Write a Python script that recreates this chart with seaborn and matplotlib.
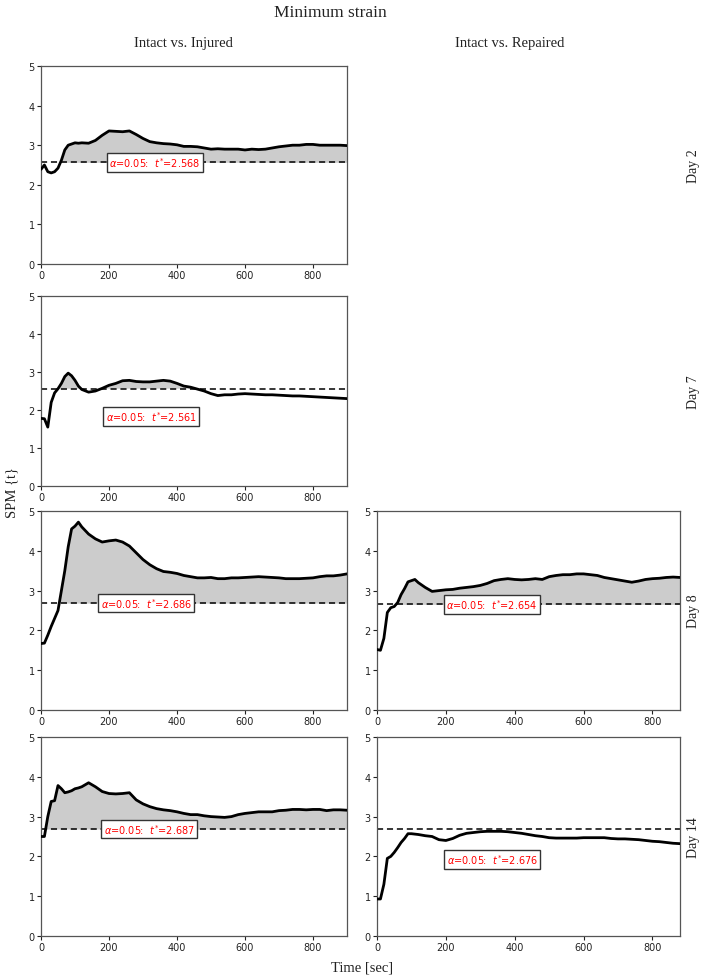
import numpy as np
import matplotlib.pyplot as plt
import seaborn as sns

# sample times [sec]
time_sec = [0, 10, 20, 30, 40, 50, 60, 70, 80, 90, 100, 110, 120,
            140, 160, 180, 200, 220, 240, 260, 280, 300, 320, 340, 360,
            380, 400, 420, 440, 460, 480, 500, 520, 540, 560, 580, 600,
            620, 640, 660, 680, 700, 720, 740, 760, 780, 800, 820, 840,
            860, 880, 900]

# SPM{t} curves, Intact vs. Injured
injured_day2 = [2.39, 2.50, 2.33, 2.30, 2.33, 2.42, 2.62, 2.88, 3.00, 3.03, 3.06, 3.05, 3.06,
                3.05, 3.12, 3.25, 3.36, 3.35, 3.34, 3.36, 3.27, 3.17, 3.09, 3.06, 3.04,
                3.03, 3.01, 2.97, 2.97, 2.96, 2.93, 2.90, 2.91, 2.90, 2.90, 2.90, 2.88,
                2.90, 2.89, 2.90, 2.93, 2.96, 2.98, 3.00, 3.00, 3.02, 3.02, 3.00, 3.00,
                3.00, 3.00, 2.99]
injured_day7 = [1.78, 1.77, 1.55, 2.20, 2.45, 2.56, 2.70, 2.88, 2.97, 2.90, 2.78, 2.63, 2.54,
                2.47, 2.50, 2.57, 2.65, 2.70, 2.77, 2.78, 2.75, 2.74, 2.74, 2.76, 2.78,
                2.76, 2.70, 2.63, 2.60, 2.55, 2.50, 2.43, 2.38, 2.40, 2.40, 2.42, 2.43,
                2.42, 2.41, 2.40, 2.40, 2.39, 2.38, 2.37, 2.37, 2.36, 2.35, 2.34, 2.33,
                2.32, 2.31, 2.30]
injured_day8 = [1.67, 1.68, 1.88, 2.10, 2.30, 2.50, 3.00, 3.50, 4.10, 4.55, 4.62, 4.72, 4.60,
                4.42, 4.30, 4.22, 4.25, 4.27, 4.22, 4.12, 3.95, 3.78, 3.65, 3.55, 3.48,
                3.46, 3.43, 3.38, 3.35, 3.32, 3.32, 3.33, 3.30, 3.30, 3.32, 3.32, 3.33,
                3.34, 3.35, 3.34, 3.33, 3.32, 3.30, 3.30, 3.30, 3.31, 3.32, 3.35, 3.37,
                3.37, 3.39, 3.42]
injured_day14 = [2.50, 2.50, 3.00, 3.38, 3.40, 3.78, 3.70, 3.60, 3.62, 3.65, 3.70, 3.72, 3.75,
                 3.85, 3.75, 3.63, 3.58, 3.57, 3.58, 3.60, 3.42, 3.32, 3.25, 3.20, 3.17,
                 3.15, 3.12, 3.08, 3.05, 3.05, 3.02, 3.00, 2.99, 2.98, 3.00, 3.05, 3.08,
                 3.10, 3.12, 3.12, 3.12, 3.15, 3.16, 3.18, 3.18, 3.17, 3.18, 3.18, 3.15,
                 3.17, 3.17, 3.16]

# SPM{t} curves, Intact vs. Repaired (recorded to 880 sec)
repaired_day8 = [1.52, 1.50, 1.80, 2.45, 2.57, 2.60, 2.70, 2.90, 3.05, 3.22, 3.25, 3.28, 3.20,
                 3.08, 2.98, 3.00, 3.02, 3.03, 3.06, 3.08, 3.10, 3.13, 3.18, 3.25, 3.28,
                 3.30, 3.28, 3.27, 3.28, 3.30, 3.28, 3.35, 3.38, 3.40, 3.40, 3.42, 3.42,
                 3.40, 3.38, 3.33, 3.30, 3.27, 3.24, 3.21, 3.24, 3.28, 3.30, 3.31, 3.33,
                 3.34, 3.33]
repaired_day14 = [0.93, 0.93, 1.30, 1.95, 2.00, 2.10, 2.22, 2.35, 2.45, 2.57, 2.57, 2.56, 2.55,
                  2.52, 2.50, 2.42, 2.40, 2.45, 2.53, 2.58, 2.60, 2.62, 2.63, 2.63, 2.63,
                  2.62, 2.60, 2.58, 2.55, 2.52, 2.50, 2.47, 2.46, 2.46, 2.46, 2.46, 2.47,
                  2.47, 2.47, 2.47, 2.45, 2.44, 2.44, 2.43, 2.42, 2.40, 2.38, 2.37, 2.35,
                  2.33, 2.32]

# critical thresholds t*
thr_injured = [2.568, 2.561, 2.686, 2.687]
thr_repaired = [None, None, 2.654, 2.676]

row_labels = ['Day 2', 'Day 7', 'Day 8', 'Day 14']
col_labels = ['Intact vs. Injured', 'Intact vs. Repaired']

sns.set_style('ticks')
plt.rcParams['font.family'] = ['DejaVu Sans']

W, H = 709, 978
fig = plt.figure(figsize=(W / 100, H / 100), dpi=100)

# axes boxes in pixels (top, bottom) per row, (left, right) per column
row_px = [(67, 265), (297, 487), (512, 711), (738, 937)]
col_px = [(41, 347), (377, 680)]
# label box centre (time, value) per panel
box_pos = {
    (0, 0): (334, 2.568), (1, 0): (324, 1.83), (2, 0): (309, 2.686), (3, 0): (318, 2.687),
    (2, 1): (333, 2.654), (3, 1): (335, 1.93),
}


def draw_panel(ax, t, y, thr, xmax, box):
    t = np.asarray(t, dtype=float)
    y = np.asarray(y, dtype=float)
    ax.fill_between(t, y, thr, where=y > thr, interpolate=True,
                    color='#cccccc', lw=0, zorder=1)
    sns.lineplot(x=t, y=y, ax=ax, color='black', lw=2.0, zorder=3)
    ax.axhline(thr, color='black', lw=1.1, ls=(0, (4, 2.5)), zorder=2)
    ax.text(box[0], box[1], r'$\alpha$=0.05:  $t^{*}$=%.3f' % thr,
            color='red', fontsize=7, ha='center', va='center', zorder=4,
            bbox=dict(boxstyle='square,pad=0.25', fc='white', ec='#333333', lw=1.0))
    ax.set_xlim(0, xmax)
    ax.set_ylim(0, 5)
    ax.set_xticks([0, 200, 400, 600, 800])
    ax.set_yticks([0, 1, 2, 3, 4, 5])
    ax.tick_params(labelsize=7, length=3, width=0.8, pad=1.5, colors='#222222')
    for sp in ax.spines.values():
        sp.set_color('#555555')
        sp.set_linewidth(0.9)
    ax.set_xlabel('')
    ax.set_ylabel('')


injured = [injured_day2, injured_day7, injured_day8, injured_day14]
repaired = [None, None, repaired_day8, repaired_day14]

for r in range(4):
    top, bot = row_px[r]
    for c in range(2):
        series = injured[r] if c == 0 else repaired[r]
        if series is None:
            continue
        left, right = col_px[c]
        ax = fig.add_axes([left / W, 1 - bot / H, (right - left) / W, (bot - top) / H])
        thr = thr_injured[r] if c == 0 else thr_repaired[r]
        xmax = 900 if c == 0 else 880
        draw_panel(ax, time_sec[:len(series)], series, thr, xmax, box_pos[(r, c)])
    fig.text(693 / W, 1 - (top + bot) / 2 / H, row_labels[r], rotation=90,
             ha='center', va='center', fontsize=10, family='Liberation Serif',
             color='#222222')

fig.text(330 / W, 1 - 13 / H, 'Minimum strain', ha='center', va='center',
         fontsize=12.5, family='Liberation Serif', color='#222222')
fig.text(183 / W, 1 - 43 / H, col_labels[0], ha='center', va='center',
         fontsize=10.5, family='Liberation Serif', color='#222222')
fig.text(510 / W, 1 - 43 / H, col_labels[1], ha='center', va='center',
         fontsize=10.5, family='Liberation Serif', color='#222222')
fig.text(12 / W, 1 - 492 / H, 'SPM {t}', rotation=90, ha='center', va='center',
         fontsize=10.5, family='Liberation Serif', color='#222222')
fig.text(362 / W, 1 - 968 / H, 'Time [sec]', ha='center', va='center',
         fontsize=10.5, family='Liberation Serif', color='#222222')

fig.savefig('out.png', dpi=100)
